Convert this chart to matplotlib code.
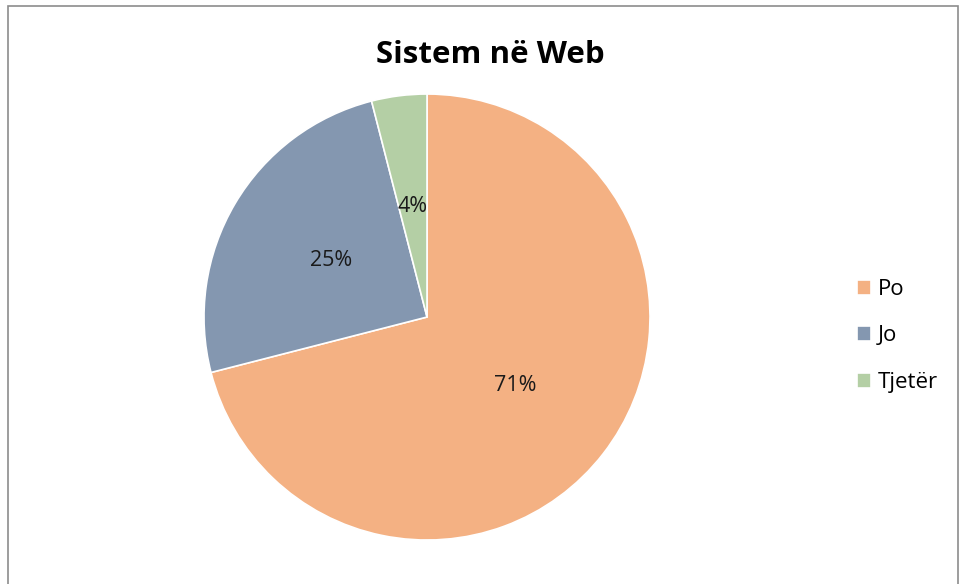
import matplotlib.pyplot as plt
from matplotlib.patches import Rectangle

plt.rcParams['font.family'] = ['Open Sans', 'DejaVu Sans']

labels = ['Po', 'Jo', 'Tjetër']
values = [71, 25, 4]
colors = ['#F4B183', '#8497B0', '#B4CFA5']

fig = plt.figure(figsize=(9.6, 5.84), dpi=100)
fig.patches.append(Rectangle((8 / 960, -0.1), 950 / 960, 1.1 - 6 / 584, transform=fig.transFigure,
                             fill=False, edgecolor='#8c8c8c', linewidth=1.2))

ax = fig.add_axes([0.2125, 0.0753, 0.4646, 0.7637])
wedges, texts, autotexts = ax.pie(values, colors=colors, startangle=90, counterclock=False,
                                  autopct='%d%%', pctdistance=0.5, radius=1,
                                  wedgeprops=dict(edgecolor='white', linewidth=1.2),
                                  textprops=dict(fontsize=15.5, color='#1a1a1a'))
ax.set_xlim(-1, 1)
ax.set_ylim(-1, 1)
ax.set_aspect('equal')

fig.text(0.511, 1 - 55 / 584, 'Sistem në Web', ha='center', va='center',
         fontsize=22.5, fontweight='bold')

fig.legend(wedges, labels, loc='center left', bbox_to_anchor=(837 / 960, 1 - 336 / 584),
           frameon=False, fontsize=16, handlelength=0.65, handleheight=0.65,
           handletextpad=0.3, labelspacing=1.15)

fig.savefig('out.png', dpi=100)
